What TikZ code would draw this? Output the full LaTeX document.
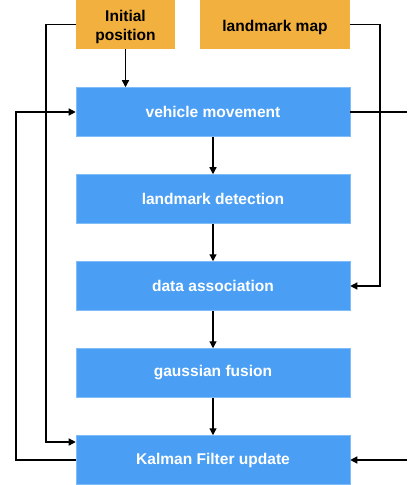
\documentclass[tikz,border=0pt]{standalone}
\usepackage{fontspec}
\setmainfont{Liberation Sans}
\usetikzlibrary{arrows.meta}
\definecolor{boxblue}{HTML}{4A9FF5}
\definecolor{boxorange}{HTML}{F2B13E}
\begin{document}
\begin{tikzpicture}[x=1bp,y=-1bp,
  bluebox/.style={fill=boxblue,draw=boxblue!70!white,line width=0.5bp,minimum width=274bp,minimum height=49bp,inner sep=0pt,text=white,font=\fontsize{15.6}{18}\selectfont\bfseries},
  orangebox/.style={fill=boxorange,draw=none,minimum height=49bp,inner sep=0pt},
  orangetext/.style={text=black,align=center,font=\fontsize{15.6}{19.5}\selectfont\bfseries,yshift=-2.5bp},
  conn/.style={line width=1.2bp,draw=black},
  arr/.style={conn,-{Triangle[length=7bp,width=7bp]}}]
\useasboundingbox (0,0) rectangle (407,485);
\node[orangebox,minimum width=99bp,label={[orangetext]center:Initial\\position}] (init) at (125.5,24.5) {};
\node[orangebox,minimum width=150bp,label={[orangetext]center:landmark map}] (map) at (275,24.5) {};
\node[bluebox] (veh) at (213,112) {vehicle movement};
\node[bluebox] (det) at (213,199) {landmark detection};
\node[bluebox] (assoc) at (213,286) {data association};
\node[bluebox] (fus) at (213,373) {gaussian fusion};
\node[bluebox] (kal) at (213,460) {Kalman Filter update};
\coordinate (rv) at (407,112);
\coordinate (rk) at (407,460);
\draw[arr] (init) -- (init.south |- veh.north);
\draw[arr] (veh) -- (det);
\draw[arr] (det) -- (assoc);
\draw[arr] (assoc) -- (fus);
\draw[arr] (fus) -- (kal);
\draw[arr] (init.west) -| (46,442) -- (kal.west |- 0,442);
\draw[arr] (kal.west) -| (16,112) -- (veh.west);
\draw[arr] (map.east) -| (380,286) -- (assoc.east);
\draw[conn] (veh.east) -- (rv);
\draw[arr] (rk) -- (kal.east);
\end{tikzpicture}
\end{document}
